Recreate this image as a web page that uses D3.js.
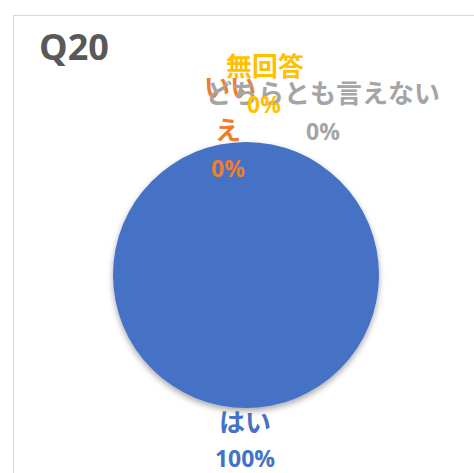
<!DOCTYPE html>
<html>
<head>
<meta charset="utf-8">
<script src="https://cdn.jsdelivr.net/npm/d3@7"></script>
<style>
  body { margin: 0; background: #fff; }
  svg { display: block; }
</style>
</head>
<body>
<div class="canvas"></div>
<script>
var categories = ['はい', 'いいえ', 'どちらとも言えない', '無回答'];
var values = [100, 0, 0, 0];
var colours = ['#4472C4', '#ED7D31', '#A5A5A5', '#FFC000'];
var title = 'Q20';

var width = 474;
var height = 473;
var cx = 246, cy = 275, radius = 133;

// label offsets from pie centre (name line(s) and percent), excel-style placement
var labelSpots = [
  { name: [[-1, 145]], pct: [-1, 183] },
  { name: [[-16, -190], [-18, -147]], pct: [-18, -107] },
  { name: [[77, -184]], pct: [77, -144] },
  { name: [[19, -211]], pct: [18, -171] }
];

var svg = d3.select('.canvas')
  .append('svg')
  .attr('width', width)
  .attr('height', height);

var defs = svg.append('defs');
var filt = defs.append('filter').attr('id', 'shadow')
  .attr('x', '-20%').attr('y', '-20%').attr('width', '140%').attr('height', '140%');
filt.append('feGaussianBlur').attr('in', 'SourceAlpha').attr('stdDeviation', 3);
filt.append('feOffset').attr('dx', 0).attr('dy', 3).attr('result', 'b');
filt.append('feComponentTransfer').append('feFuncA').attr('type', 'linear').attr('slope', 0.35);
var merge = filt.append('feMerge');
merge.append('feMergeNode');
merge.append('feMergeNode').attr('in', 'SourceGraphic');

// chart frame
svg.append('rect')
  .attr('x', 13.5).attr('y', 15.5)
  .attr('width', 480).attr('height', 480)
  .attr('fill', '#fff')
  .attr('stroke', '#D9D9D9');

svg.append('text')
  .attr('x', 39).attr('y', 60)
  .attr('font-family', 'Open Sans, sans-serif')
  .attr('font-weight', 'bold')
  .attr('font-size', 36)
  .attr('fill', '#595959')
  .text(title);

var data = categories.map(function(c, i) { return { name: c, value: values[i], colour: colours[i] }; });

var pie = d3.pie().sort(null).value(function(d) { return d.value; });
var arc = d3.arc().innerRadius(0).outerRadius(radius);

var g = svg.append('g').attr('transform', 'translate(' + cx + ',' + cy + ')');

g.selectAll('path')
  .data(pie(data))
  .enter()
  .append('path')
  .attr('d', arc)
  .attr('fill', function(d) { return d.data.colour; })
  .attr('filter', 'url(#shadow)');

var total = d3.sum(values);
var fmt = d3.format('.0%');

// draw labels back to front so the yellow sits on top like the original
[1, 2, 3, 0].forEach(function(i) {
  var d = data[i];
  var spot = labelSpots[i];
  var lines = i === 1 ? ['いい', 'え'] : [d.name];
  lines.forEach(function(line, k) {
    g.append('text')
      .attr('x', spot.name[k][0]).attr('y', spot.name[k][1])
      .attr('text-anchor', 'middle')
      .attr('dominant-baseline', 'central')
      .attr('font-family', 'Noto Sans CJK JP, sans-serif')
      .attr('font-weight', 'bold')
      .attr('font-size', 26)
      .attr('fill', d.colour)
      .text(line);
  });
  g.append('text')
    .attr('x', spot.pct[0]).attr('y', spot.pct[1])
    .attr('text-anchor', 'middle')
    .attr('dominant-baseline', 'central')
    .attr('font-family', 'Open Sans, sans-serif')
    .attr('font-weight', 'bold')
    .attr('font-size', 23)
    .attr('fill', d.colour)
    .text(fmt(d.value / total));
});
</script>
</body>
</html>
